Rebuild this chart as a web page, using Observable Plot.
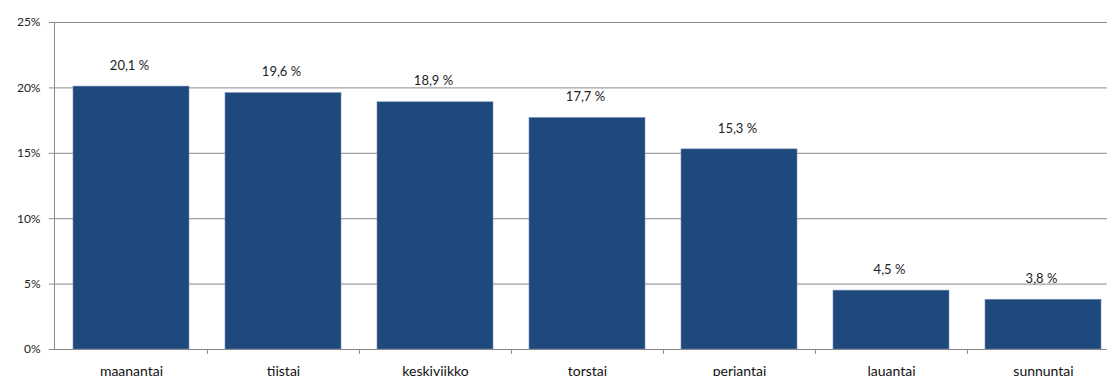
<!DOCTYPE html>
<html>
<head>
<meta charset="utf-8">
<script src="https://cdn.jsdelivr.net/npm/d3@7"></script>
<script src="https://cdn.jsdelivr.net/npm/@observablehq/plot@0.6"></script>
<style>
  html, body { margin: 0; padding: 0; background: #fff; }
  #chart { width: 1107px; height: 376px; overflow: hidden; }
</style>
</head>
<body>
<div id="chart"></div>
<script>
// Share of cases by weekday (%)
const days = ["maanantai", "tiistai", "keskiviikko", "torstai", "perjantai", "lauantai", "sunnuntai"];
const shares = [20.1, 19.6, 18.9, 17.7, 15.3, 4.5, 3.8];
const yTicks = [0, 5, 10, 15, 20, 25];

const data = days.map((day, i) => ({day, share: shares[i]}));
const fmt = v => v.toFixed(1).replace(".", ",") + " %";

const font = "Lato, 'Open Sans', sans-serif";
const axisGrey = "#8a8a8a";

// Small tick marks between categories on the baseline
function boundaryTicks(index, scales, values, dimensions) {
  const x = scales.x, y = scales.y;
  const step = x.step();
  const g = d3.create("svg:g").attr("stroke", axisGrey).attr("stroke-width", 1);
  const start = x(days[0]) - x.paddingOuter() * step;
  for (let i = 1; i <= days.length; i++) {
    const xx = Math.round(start + i * step) + 0.5;
    g.append("line").attr("x1", xx).attr("x2", xx)
      .attr("y1", y(0)).attr("y2", y(0) + 5);
  }
  return g.node();
}

const chart = Plot.plot({
  width: 1107,
  height: 376,
  marginLeft: 54,
  marginRight: 0,
  marginTop: 22,
  marginBottom: 27,
  style: {fontFamily: font, background: "#fff", overflow: "hidden"},
  x: {domain: days, range: [54, 1119.5], paddingInner: 0.235, paddingOuter: 0.117, label: null},
  y: {domain: [0, 25], label: null},
  marks: [
    Plot.gridY(yTicks, {stroke: axisGrey, strokeOpacity: 1, strokeWidth: 1}),
    Plot.axisY(yTicks, {
      tickSize: 5, tickPadding: 9, stroke: axisGrey,
      tickFormat: d => d + "%", fontSize: 12, fill: "#222",
      style: {letterSpacing: "0.8px"}
    }),
    Plot.barY(data, {x: "day", y: "share", fill: "#1f497d", stroke: "#6f8fb5", strokeWidth: 0.6}),
    Plot.text(data, {
      x: "day", y: "share", text: d => fmt(d.share),
      dy: -21, dx: -2, fontSize: 13, fill: "#222",
      style: {letterSpacing: "1.3px"}
    }),
    Plot.ruleY([0], {stroke: axisGrey}),
    Plot.frame({anchor: "left", stroke: axisGrey}),
    boundaryTicks,
    Plot.axisX({
      tickSize: 0, tickPadding: 17, fontSize: 14, fill: "#111",
      style: {letterSpacing: "1px"}
    })
  ]
});

document.getElementById("chart").appendChild(chart);
</script>
</body>
</html>
